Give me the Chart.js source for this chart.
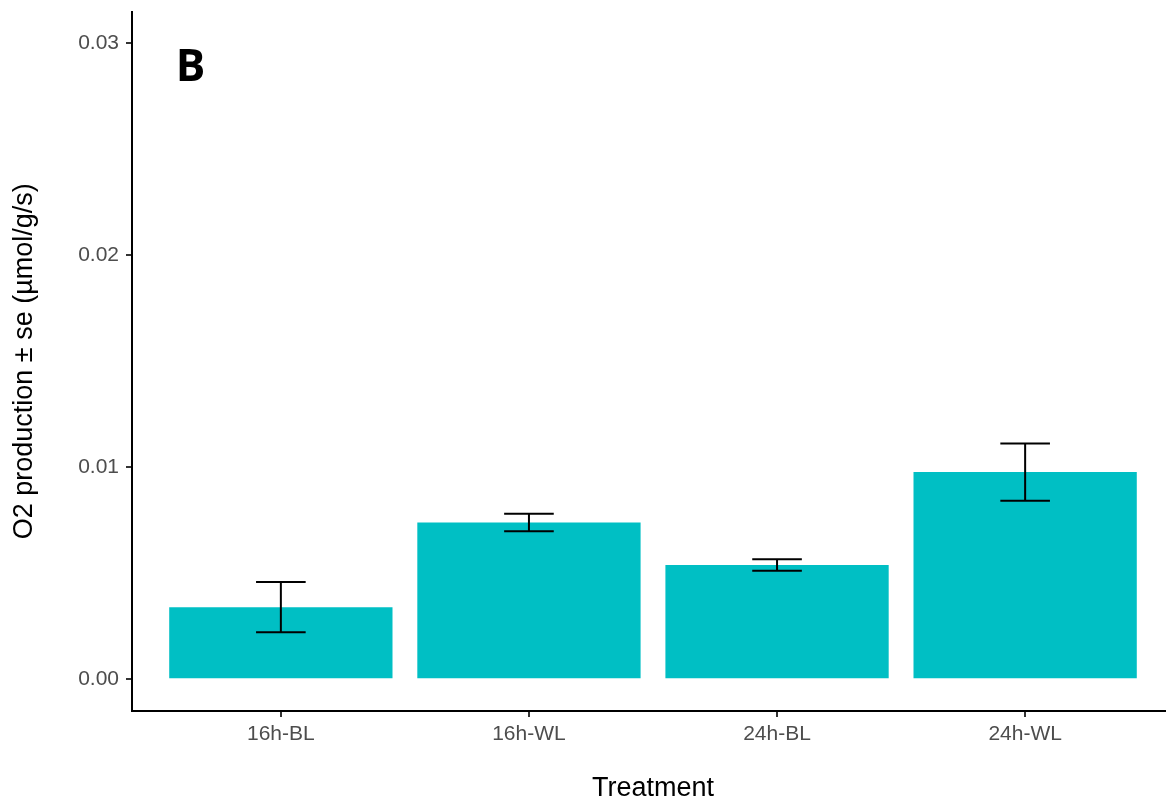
<!DOCTYPE html>
<html>
<head>
<meta charset="utf-8">
<title>O2 production by treatment</title>
<script src="https://cdn.jsdelivr.net/npm/chart.js@4.4.1/dist/chart.umd.min.js"></script>
<style>
  html, body { margin: 0; padding: 0; background: #ffffff; overflow: hidden; }
  #wrap { width: 1176px; height: 805px; }
</style>
</head>
<body>
<div id="wrap"><canvas id="chart" width="1176" height="805"></canvas></div>
<script>
// Treatment groups and measured O2 production (mean and standard error)
const treatments = ['16h-BL', '16h-WL', '24h-BL', '24h-WL'];
const meanO2 = [0.00340, 0.00739, 0.00539, 0.00977];
const seO2 = [0.00119, 0.00041, 0.00027, 0.00135];
const yTicks = [0.00, 0.01, 0.02, 0.03];

const barColor = '#00BFC4';
const axisFont = '"Liberation Sans", Arial, sans-serif';

// Mean ± se whiskers with horizontal caps
const errorBars = {
  id: 'errorBars',
  afterDatasetsDraw(chart, args, opts) {
    const { ctx, scales: { x, y } } = chart;
    ctx.save();
    ctx.strokeStyle = opts.color;
    ctx.lineWidth = opts.lineWidth;
    ctx.lineCap = 'butt';
    treatments.forEach((t, i) => {
      const cx = x.getPixelForValue(i + 1);
      const half = (x.getPixelForValue(i + 1 + opts.capWidth / 2) - cx);
      const top = y.getPixelForValue(meanO2[i] + seO2[i]);
      const bot = y.getPixelForValue(meanO2[i] - seO2[i]);
      ctx.beginPath();
      ctx.moveTo(cx, top); ctx.lineTo(cx, bot);
      ctx.moveTo(cx - half, top); ctx.lineTo(cx + half, top);
      ctx.moveTo(cx - half, bot); ctx.lineTo(cx + half, bot);
      ctx.stroke();
    });
    ctx.restore();
  }
};

// Panel letter in the upper-left corner of the plot
const panelTag = {
  id: 'panelTag',
  afterDraw(chart, args, opts) {
    const { ctx, scales: { x, y } } = chart;
    ctx.save();
    ctx.font = opts.font;
    ctx.fillStyle = '#000';
    ctx.textAlign = 'center';
    ctx.textBaseline = 'middle';
    ctx.fillText(opts.text, x.getPixelForValue(opts.x), y.getPixelForValue(opts.y));
    ctx.restore();
  }
};

new Chart(document.getElementById('chart'), {
  type: 'bar',
  data: {
    datasets: [{
      data: treatments.map((t, i) => ({ x: i + 1, y: meanO2[i] })),
      backgroundColor: barColor,
      borderWidth: 0,
      categoryPercentage: 1.0,
      barPercentage: 0.9
    }]
  },
  options: {
    responsive: false,
    animation: false,
    devicePixelRatio: 1,
    layout: { padding: { left: 0, right: 2, top: 11.5, bottom: 0 } },
    plugins: {
      legend: { display: false },
      tooltip: { enabled: false },
      errorBars: { color: '#000', lineWidth: 2, capWidth: 0.2 },
      panelTag: { text: 'B', x: 0.636, y: 0.0288, font: 'bold 44px "Open Sans", sans-serif' }
    },
    scales: {
      x: {
        type: 'linear',
        min: 0.4,
        max: 4.6,
        offset: false,
        afterBuildTicks: s => { s.ticks = treatments.map((t, i) => ({ value: i + 1 })); },
        afterFit: s => { s.height = 94; s.paddingLeft = 0; s.paddingRight = 0; },
        ticks: {
          callback: v => treatments[v - 1],
          color: '#4D4D4D',
          font: { family: axisFont, size: 21 },
          padding: 5,
          maxRotation: 0,
          autoSkip: false
        },
        grid: { display: true, drawOnChartArea: false, drawTicks: true, tickLength: 6, color: '#333', lineWidth: 2, offset: false },
        border: { display: true, color: '#000', width: 2 },
        title: {
          display: true,
          text: 'Treatment',
          color: '#000',
          font: { family: axisFont, size: 27 },
          padding: { top: 0, bottom: 0 }
        }
      },
      y: {
        type: 'linear',
        min: -0.0015,
        max: 0.0315,
        afterBuildTicks: s => { s.ticks = yTicks.map(v => ({ value: v })); },
        afterFit: s => { s.width = 132; s.paddingTop = 0; s.paddingBottom = 0; },
        ticks: {
          callback: v => v.toFixed(2),
          color: '#4D4D4D',
          font: { family: axisFont, size: 21 },
          padding: 7
        },
        grid: { display: true, drawOnChartArea: false, drawTicks: true, tickLength: 6, color: '#333', lineWidth: 2 },
        border: { display: true, color: '#000', width: 2 },
        title: {
          display: true,
          text: 'O2 production ± se (µmol/g/s)',
          color: '#000',
          font: { family: axisFont, size: 27 },
          padding: { top: 8, bottom: 0 }
        }
      }
    }
  },
  plugins: [errorBars, panelTag]
});
</script>
</body>
</html>
